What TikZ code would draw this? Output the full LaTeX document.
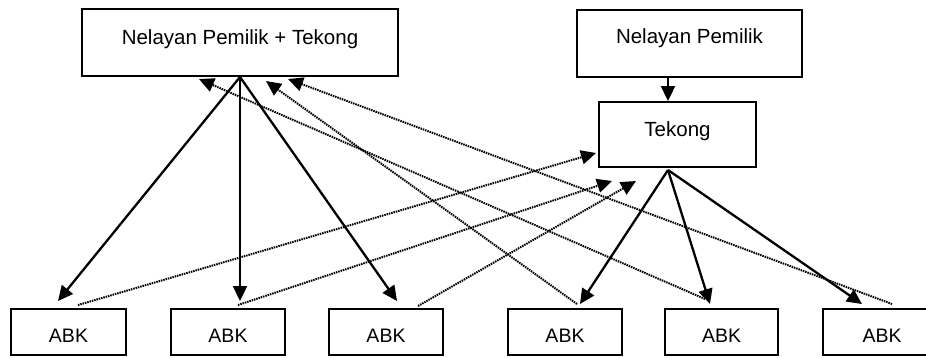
\documentclass[tikz,border=0pt]{standalone}
\usepackage{fontspec}
\setmainfont{Liberation Sans}
\usetikzlibrary{arrows.meta}

\tikzset{
  box/.style={draw, line width=2pt, rectangle, inner sep=0pt, font=\fontsize{20.5}{24}\selectfont},
  abkbox/.style={box, minimum height=46pt, font=\fontsize{19.5}{23}\selectfont, text height=25pt, text depth=4.7pt},
  link/.style={line width=2.3pt, -{Triangle[length=15pt,width=14pt]}},
  backlink/.style={line width=2pt, dash pattern=on 1.5pt off 0.9pt, -{Triangle[length=15pt,width=14pt]}}
}

\begin{document}
\begin{tikzpicture}[x=1pt, y=-1pt]
  \useasboundingbox (0,0) rectangle (926,357);

  % upper level: owners and skipper
  \node[box, minimum width=316pt, minimum height=67pt, text height=15pt, text depth=11.7pt]
    (top1) at (240,42.5) {Nelayan Pemilik + Tekong};
  \node[box, minimum width=225pt, minimum height=67pt, text height=15pt, text depth=14.7pt]
    (top2) at (689.5,43.5) {Nelayan Pemilik};
  \node[box, minimum width=157pt, minimum height=65pt, text height=15pt, text depth=10.7pt]
    (tek) at (677.5,134.5) {Tekong};

  % crew boxes
  \node[abkbox, minimum width=115pt] (abk1) at (68.5,332) {ABK};
  \node[abkbox, minimum width=114pt] (abk2) at (228,332) {ABK};
  \node[abkbox, minimum width=114pt] (abk3) at (386,332) {ABK};
  \node[abkbox, minimum width=114pt] (abk4) at (565,332) {ABK};
  \node[abkbox, minimum width=113pt] (abk5) at (721.5,332) {ABK};
  \node[abkbox, minimum width=118pt] (abk6) at (882,332) {ABK};

  \coordinate (tekfoot) at ([xshift=-9.5pt,yshift=-2pt]tek.south);

  % owner to skipper
  \draw[link] ([xshift=-21.5pt]top2.south) -- ([xshift=-9.5pt]tek.north);

  % solid lines downward to the crew
  \draw[link] (top1.south) -- ([xshift=-10.5pt,yshift=7pt]abk1.north);
  \draw[link] (top1.south) -- ([xshift=12pt,yshift=7pt]abk2.north);
  \draw[link] (top1.south) -- ([xshift=11pt,yshift=7pt]abk3.north);
  \draw[link] (tekfoot) -- ([xshift=15pt,yshift=4pt]abk4.north);
  \draw[link] (tekfoot) -- ([xshift=-11.5pt,yshift=4pt]abk5.north);
  \draw[link] (tekfoot) -- ([xshift=-20pt,yshift=4pt]abk6.north);

  % dotted lines back up from the crew
  \draw[backlink] ([xshift=9.5pt,yshift=3pt]abk1.north) -- ([xshift=-2pt,yshift=15pt]tek.south west);
  \draw[backlink] ([xshift=10pt,yshift=3pt]abk2.north) -- ([xshift=14pt,yshift=-13pt]tek.south west);
  \draw[backlink] ([xshift=32pt,yshift=2pt]abk3.north) -- ([xshift=38pt,yshift=-13pt]tek.south west);
  \draw[backlink] ([xshift=12pt,yshift=4pt]abk4.north) -- ([xshift=26pt,yshift=-4pt]top1.south);
  \draw[backlink] ([xshift=-16.5pt,yshift=9pt]abk5.north) -- ([xshift=-41pt,yshift=-2pt]top1.south);
  \draw[backlink] ([xshift=10pt,yshift=4pt]abk6.north) -- ([xshift=48pt,yshift=-2pt]top1.south);
\end{tikzpicture}
\end{document}
